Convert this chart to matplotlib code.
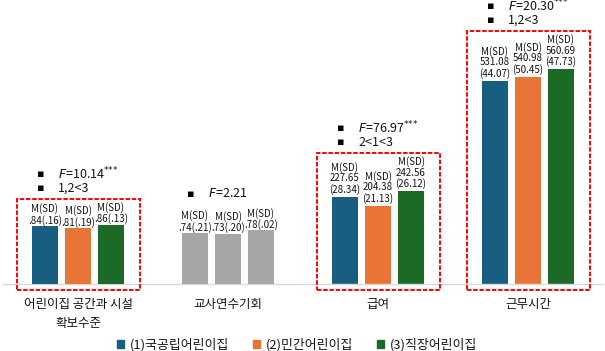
import numpy as np
import matplotlib
matplotlib.use('Agg')
import matplotlib.pyplot as plt
from matplotlib.patches import Rectangle

plt.rcParams['font.family'] = ['Noto Sans CJK KR', 'DejaVu Sans']
plt.rcParams['mathtext.fontset'] = 'dejavusans'

# data
categories = ['어린이집 공간과 시설\n확보수준', '교사연수기회', '급여', '근무시간']
series = ['(1)국공립어린이집', '(2)민간어린이집', '(3)직장어린이집']
mean_public = [0.84, 0.74, 227.65, 531.08]
mean_private = [0.81, 0.73, 204.38, 540.98]
mean_work = [0.86, 0.78, 242.56, 560.69]
sd_public = [0.16, 0.21, 28.34, 44.07]
sd_private = [0.19, 0.20, 21.13, 50.45]
sd_work = [0.13, 0.02, 26.12, 47.73]
f_values = ['10.14', '2.21', '76.97', '20.30']
f_stars = ['***', '', '***', '***']
posthoc = ['1,2<3', '', '2<1<3', '1,2<3']
significant = [True, False, True, True]
# groups 0,1 are ratings (secondary scale), groups 2,3 on the primary scale
on_secondary = [True, True, False, False]

colors = ['#175E80', '#E87535', '#1B6B27']
gray = '#A6A6A6'
text_color = '#141414'

means = [mean_public, mean_private, mean_work]
sds = [sd_public, sd_private, sd_work]

W, H = 605, 351
fig = plt.figure(figsize=(W / 100, H / 100), dpi=100)
ax = fig.add_axes([3 / W, 67 / H, 600 / W, 284 / H])
ax2 = ax.twinx()
ax.set_xlim(-0.5, 3.5)
ax.set_ylim(0, 741.5)
ax2.set_ylim(0, 4.128)

for a in (ax, ax2):
    for s in ['top', 'right', 'left', 'bottom']:
        a.spines[s].set_visible(False)
    a.set_yticks([])
ax.spines['bottom'].set_visible(True)
ax.spines['bottom'].set_color('#D9D9D9')
ax.spines['bottom'].set_linewidth(1.0)

x = np.arange(len(categories))
offset = 0.22
width = 0.173


def fmt_small(v):
    return f'{v:.2f}'.lstrip('0')


labels = [[] for _ in categories]
for i in range(3):
    for g in range(len(categories)):
        target = ax2 if on_secondary[g] else ax
        col = colors[i] if significant[g] else gray
        xpos = x[g] + (i - 1) * offset
        target.bar(xpos, means[i][g], width, color=col, zorder=2)
        if on_secondary[g]:
            txt = f'M(SD)\n{fmt_small(means[i][g])}({fmt_small(sds[i][g])})'
            dy = 0.3
        else:
            txt = f'M(SD)\n{means[i][g]:.2f}\n({sds[i][g]:.2f})'
            dy = 1.5
        t = target.annotate(txt, (xpos, means[i][g]), xytext=(0, dy),
                            textcoords='offset points', ha='center', va='bottom',
                            fontsize=7, color=text_color, linespacing=1.05)
        labels[g].append(t)

ax.set_xticks(x)
ax.set_xticklabels(categories, fontsize=9, color=text_color, linespacing=1.6)
ax.tick_params(axis='x', length=0, pad=10)
ax2.tick_params(axis='x', length=0)

# legend
handles = [Rectangle((0, 0), 1, 1, color=c) for c in colors]
fig.legend(handles, series, loc='center', bbox_to_anchor=(297 / W, 1 - 345 / H),
           ncol=3, frameon=False, fontsize=9.3, handlelength=0.55, handleheight=0.55,
           handletextpad=0.4, columnspacing=1.9, labelcolor=text_color)

# dashed boxes and F annotations, placed from the rendered label extents
fig.canvas.draw()
renderer = fig.canvas.get_renderer()
base = ax.transData.transform((0, 0))[1]
for g in range(len(categories)):
    top = max(t.get_window_extent(renderer).y1 for t in labels[g]) + 3
    x0 = ax.transData.transform((x[g] - 0.41, 0))[0]
    x1 = ax.transData.transform((x[g] + 0.41, 0))[0]
    if significant[g]:
        bottom = base - 6
        rect = Rectangle((x0 / W, bottom / H), (x1 - x0) / W, (top - bottom) / H,
                         transform=fig.transFigure, fill=False, edgecolor='#FF0000',
                         linewidth=1.4, linestyle=(0, (2.3, 0.9)), zorder=5)
        fig.add_artist(rect)
    lines = [rf'$\mathit{{F}}$={f_values[g]}' + (r'$^{{*}{*}{*}}$' if f_stars[g] else '')]
    if posthoc[g]:
        lines.append(posthoc[g])
    bx = ax.transData.transform((x[g] - 0.25, 0))[0]
    tx = ax.transData.transform((x[g] - 0.133, 0))[0]
    y = top + 11 + 14 * (len(lines) - 1)
    for line in lines:
        fig.text(bx / W, y / H, '▪', fontsize=8, ha='center', va='center',
                 color='black', family='DejaVu Sans')
        fig.text(tx / W, y / H, line, fontsize=9, ha='left', va='center',
                 color=text_color)
        y -= 14

fig.savefig('out.png', dpi=100)
